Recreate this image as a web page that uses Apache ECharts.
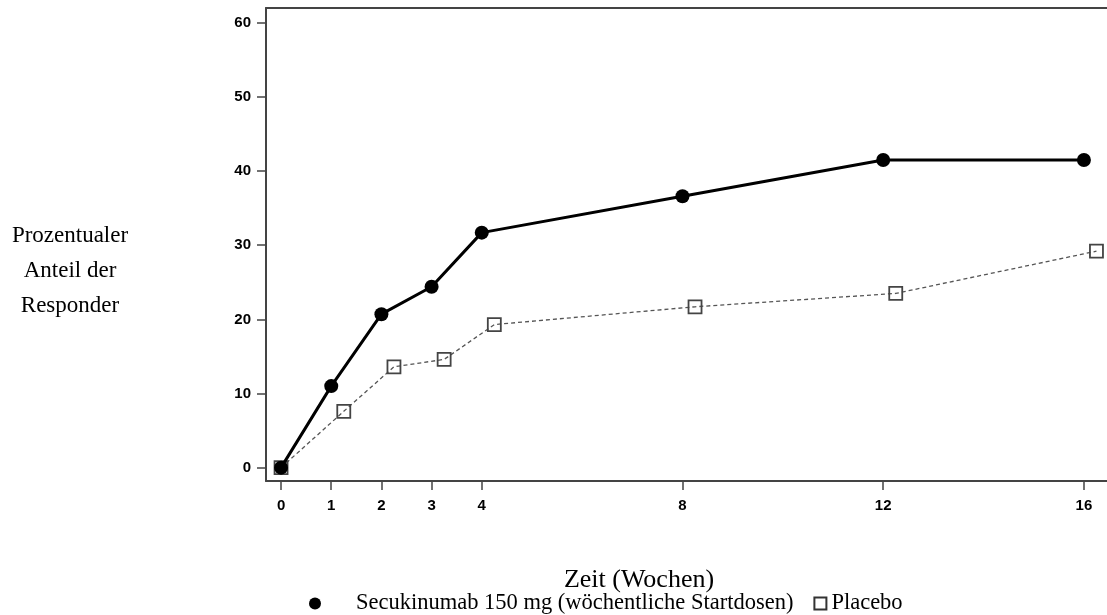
<!DOCTYPE html>
<html>
<head>
<meta charset="utf-8">
<script src="https://cdn.jsdelivr.net/npm/echarts@6/dist/echarts.min.js"></script>
<style>
html,body{margin:0;padding:0;background:#fff;}
#chart{width:1107px;height:615px;}
</style>
</head>
<body>
<div id="chart"></div>
<script>
// Data
const weeks = [0, 1, 2, 3, 4, 8, 12, 16];
const placeboWeeks = [0, 1.25, 2.25, 3.25, 4.25, 8.25, 12.25, 16.25];
const secukinumab = [0, 11.0, 20.7, 24.4, 31.7, 36.6, 41.5, 41.5];
const placebo = [0, 7.6, 13.6, 14.6, 19.3, 21.7, 23.5, 29.2];
const xTicks = [0, 1, 2, 3, 4, 8, 12, 16];
const yTicks = [0, 10, 20, 30, 40, 50, 60];
const seriesNames = ['Secukinumab 150 mg (wöchentliche Startdosen)', 'Placebo'];

const serif = '"Liberation Serif", "Times New Roman", serif';
const sans = '"Liberation Sans", Arial, sans-serif';
const axisColor = '#444';

const chart = echarts.init(document.getElementById('chart'), null, {renderer: 'canvas'});
chart.setOption({
  animation: false,
  backgroundColor: '#fff',
  grid: {left: 266, top: 8, right: 0, bottom: 134, containLabel: false},
  xAxis: [{
    type: 'value', min: -0.3, max: 16.46,
    axisLine: {show: true, onZero: false, lineStyle: {color: axisColor, width: 2}},
    axisTick: {show: true, customValues: xTicks, length: 9, lineStyle: {color: axisColor, width: 1.5}},
    axisLabel: {customValues: xTicks, margin: 17, color: '#000', fontFamily: sans, fontWeight: 'bold', fontSize: 15},
    splitLine: {show: false}
  }, {
    type: 'value', position: 'top', min: -0.3, max: 16.46,
    axisLine: {show: true, onZero: false, lineStyle: {color: axisColor, width: 2}},
    axisTick: {show: false}, axisLabel: {show: false}, splitLine: {show: false}
  }],
  yAxis: {
    type: 'value', min: -1.8, max: 62,
    axisLine: {show: true, onZero: false, lineStyle: {color: axisColor, width: 2}},
    axisTick: {show: true, customValues: yTicks, length: 9, lineStyle: {color: axisColor, width: 1.5}},
    axisLabel: {customValues: yTicks, margin: 15, color: '#000', fontFamily: sans, fontWeight: 'bold', fontSize: 15},
    splitLine: {show: false}
  },
  legend: {
    left: 304, top: 587,
    itemWidth: 12, itemHeight: 12, itemGap: 20,
    textStyle: {fontFamily: serif, fontSize: 22.5, color: '#000'},
    data: [
      {name: seriesNames[0], icon: 'circle', itemStyle: {color: '#000'}, textStyle: {padding: [0, 0, 0, 30]}},
      {name: seriesNames[1], icon: 'rect', itemStyle: {color: '#fff', borderColor: '#333', borderWidth: 2}}
    ]
  },
  graphic: [
    {type: 'text', x: 70, y: 271, style: {text: 'Prozentualer\nAnteil der\nResponder', font: '23px ' + serif, fill: '#000', align: 'center', verticalAlign: 'middle', lineHeight: 35}},
    {type: 'text', x: 639, y: 580, style: {text: 'Zeit (Wochen)', font: '26px ' + serif, fill: '#000', align: 'center', verticalAlign: 'middle'}}
  ],
  series: [
    {
      name: seriesNames[1], type: 'line', z: 2,
      data: placeboWeeks.map((w, i) => [w, placebo[i]]),
      symbol: 'rect', symbolSize: 13,
      lineStyle: {color: '#555', width: 1.3, type: [4, 3]},
      itemStyle: {color: 'rgba(255,255,255,0)', borderColor: '#444', borderWidth: 1.8}
    },
    {
      name: seriesNames[0], type: 'line', z: 3,
      data: weeks.map((w, i) => [w, secukinumab[i]]),
      symbol: 'circle', symbolSize: 14,
      lineStyle: {color: '#000', width: 3},
      itemStyle: {color: '#000'}
    }
  ]
});
</script>
</body>
</html>
